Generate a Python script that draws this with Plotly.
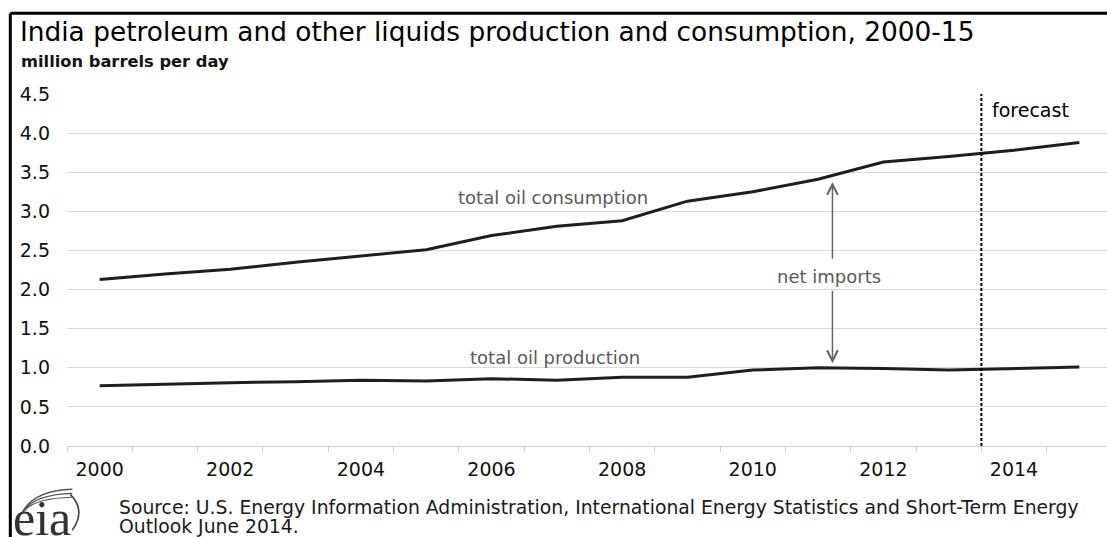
import plotly.graph_objects as go

# ---------------- data ----------------
years = list(range(2000, 2016))
consumption = [2.13, 2.20, 2.26, 2.35, 2.43, 2.51, 2.69, 2.81, 2.88, 3.13, 3.25, 3.41, 3.63, 3.70, 3.78, 3.88]
production = [0.77, 0.79, 0.81, 0.82, 0.84, 0.83, 0.86, 0.84, 0.88, 0.88, 0.97, 1.00, 0.99, 0.97, 0.99, 1.01]
y_ticks = [0.0, 0.5, 1.0, 1.5, 2.0, 2.5, 3.0, 3.5, 4.0, 4.5]
x_ticks = [2000, 2002, 2004, 2006, 2008, 2010, 2012, 2014]
forecast_start = 2013.5

title_text = "India petroleum and other liquids production and consumption, 2000-15"
subtitle_text = "million barrels per day"
source_line1 = "Source: U.S. Energy Information Administration, International Energy Statistics and Short-Term Energy"
source_line2 = "Outlook June 2014."

# ---------------- layout geometry ----------------
W, H = 1107, 537
PL, PR, PT, PB = 66.7, 1107.0, 93.8, 445.7
CAT = 65.33  # px per year
x_lo = 1999.5
x_hi = x_lo + (PR - PL) / CAT

def xp(px):
    return (px - PL) / (PR - PL)

def yp(py):
    return (PB - py) / (PB - PT)

FONT = "DejaVu Sans"
LINE_C = "#1e1e1e"
GRAY_T = "#5a5a5a"

fig = go.Figure()
fig.add_trace(go.Scatter(x=years, y=consumption, mode="lines",
                         line=dict(color=LINE_C, width=3), hoverinfo="skip", showlegend=False))
fig.add_trace(go.Scatter(x=years, y=production, mode="lines",
                         line=dict(color=LINE_C, width=3), hoverinfo="skip", showlegend=False))

annotations = []
# title/subtitle
annotations.append(dict(text=title_text, x=xp(18), y=yp(31), xref="paper", yref="paper",
                        xanchor="left", yanchor="middle", showarrow=False,
                        font=dict(family=FONT, size=26.4, color="#000")))
annotations.append(dict(text="<b>" + subtitle_text + "</b>", x=xp(19), y=yp(61), xref="paper", yref="paper",
                        xanchor="left", yanchor="middle", showarrow=False,
                        font=dict(family=FONT, size=16.3, color="#111")))
# in-plot labels
annotations.append(dict(text="total oil consumption", x=2006.94, y=3.18, xref="x", yref="y",
                        showarrow=False, font=dict(family=FONT, size=18, color=GRAY_T)))
annotations.append(dict(text="total oil production", x=2006.97, y=1.13, xref="x", yref="y",
                        showarrow=False, font=dict(family=FONT, size=18, color=GRAY_T)))
annotations.append(dict(text="net imports", x=2011.16, y=2.17, xref="x", yref="y",
                        showarrow=False, font=dict(family=FONT, size=18, color=GRAY_T)))
annotations.append(dict(text="forecast", x=2013.63, y=4.29, xref="x", yref="y", xanchor="left",
                        showarrow=False, font=dict(family=FONT, size=19, color="#000")))
# net imports arrows
arrow_x = 2011.22
annotations.append(dict(text="", x=arrow_x, y=3.376, ax=arrow_x, ay=2.375, xref="x", yref="y",
                        axref="x", ayref="y", showarrow=True, arrowhead=5, arrowsize=1.4,
                        arrowwidth=1.5, arrowcolor="#666", standoff=0))
annotations.append(dict(text="", x=arrow_x, y=1.058, ax=arrow_x, ay=2.004, xref="x", yref="y",
                        axref="x", ayref="y", showarrow=True, arrowhead=5, arrowsize=1.4,
                        arrowwidth=1.5, arrowcolor="#666", standoff=0))
# source
annotations.append(dict(text=source_line1, x=xp(117), y=yp(507), xref="paper", yref="paper",
                        xanchor="left", yanchor="middle", align="left", showarrow=False,
                        font=dict(family=FONT, size=18.8, color="#1a1a1a")))
annotations.append(dict(text=source_line2, x=xp(117), y=yp(526), xref="paper", yref="paper",
                        xanchor="left", yanchor="middle", align="left", showarrow=False,
                        font=dict(family=FONT, size=18.8, color="#1a1a1a")))
# eia logo text
annotations.append(dict(text="eia", x=xp(11), y=yp(518), xref="paper", yref="paper",
                        xanchor="left", yanchor="middle", showarrow=False,
                        font=dict(family="Liberation Serif", size=50, color="#333")))

def path_px(cmds):
    out = []
    for c in cmds:
        if isinstance(c, str):
            out.append(c)
        else:
            out.append(f"{xp(c[0]):.5f},{yp(c[1]):.5f}")
    return " ".join(out)

shapes = []
# frame (left + top)
shapes.append(dict(type="line", xref="paper", yref="paper", x0=xp(10), x1=xp(1107), y0=yp(13), y1=yp(13),
                   line=dict(color="#000", width=3)))
shapes.append(dict(type="line", xref="paper", yref="paper", x0=xp(10), x1=xp(10), y0=yp(13), y1=yp(537),
                   line=dict(color="#000", width=3)))
# forecast divider
shapes.append(dict(type="line", xref="x", yref="y", x0=forecast_start, x1=forecast_start, y0=0, y1=4.5,
                   line=dict(color="#000", width=2, dash="3px,2px")))
# eia swooshes
for dy, w in [(0, 1.6), (4, 1.3), (8, 1.1)]:
    shapes.append(dict(type="path", xref="paper", yref="paper",
                       path=path_px(["M", (22 + dy * 0.3, 512 - dy * 0.2), "Q", (34, 490 + dy), (72, 489 + dy)]),
                       line=dict(color="#555", width=w)))
shapes.append(dict(type="path", xref="paper", yref="paper",
                   path=path_px(["M", (70, 494), "Q", (86, 510), (72, 530)]),
                   line=dict(color="#444", width=1.6)))

fig.update_layout(
    width=W, height=H,
    margin=dict(l=PL, r=W - PR, t=PT, b=H - PB, pad=0),
    paper_bgcolor="white", plot_bgcolor="white",
    showlegend=False,
    annotations=annotations,
    shapes=shapes,
    xaxis=dict(range=[x_lo, x_hi], tickmode="array", tickvals=x_ticks, ticktext=[str(v) for v in x_ticks],
               ticks="", showgrid=False, zeroline=False, showline=True, linecolor="#d0d0d0", linewidth=1,
               tickfont=dict(family=FONT, size=19, color="#111"), ticklabelstandoff=6,
               minor=dict(tickmode="linear", tick0=1999.5, dtick=1, ticks="outside", ticklen=5,
                          tickcolor="#d0d0d0", tickwidth=1, showgrid=False),
               fixedrange=True),
    yaxis=dict(range=[0, 4.5], tickmode="array", tickvals=y_ticks, ticktext=[f"{v:.1f}" for v in y_ticks],
               showgrid=True, gridcolor="#dadada", gridwidth=1, zeroline=False, showline=False,
               ticks="", tickfont=dict(family=FONT, size=19, color="#111"), ticklabelstandoff=16,
               fixedrange=True),
)

fig.write_html("out.html", config={"displayModeBar": False},
               post_script="document.body.style.margin='0px';document.body.style.overflow='hidden';")
